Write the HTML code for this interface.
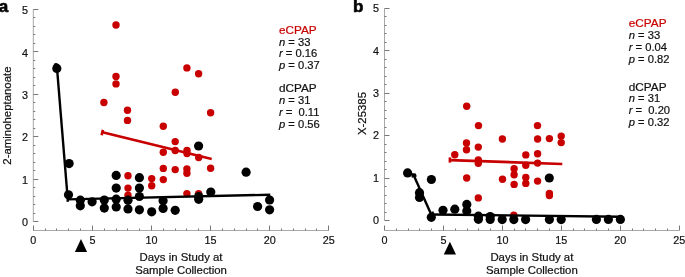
<!DOCTYPE html>
<html><head><meta charset="utf-8"><style>
html,body{margin:0;padding:0;background:#fff;overflow:hidden}
svg{display:block;will-change:transform}
.t{font-family:"Liberation Sans",sans-serif;font-size:10.5px;fill:#111;stroke:#111;stroke-width:0.2px}
.tk{font-family:"Liberation Sans",sans-serif;font-size:10.8px;fill:#111;stroke:#111;stroke-width:0.2px}
.st{font-family:"Liberation Sans",sans-serif;font-size:10.5px;fill:#111;stroke:#111;stroke-width:0.2px}
.lab{font-family:"Liberation Sans",sans-serif;font-size:17px;font-weight:bold;fill:#000}
</style></head><body>
<svg width="685" height="277" viewBox="0 0 685 277">
<text x="-1.3" y="11.9" class="lab" style="stroke:#000;stroke-width:0.6">a</text>
<text x="353" y="11.9" class="lab" style="stroke:#000;stroke-width:0.6">b</text>
<line x1="33.3" y1="9.399999999999977" x2="33.3" y2="221.5" stroke="#a8a8a8" stroke-width="1"/>
<line x1="33.3" y1="221.50" x2="38.3" y2="221.50" stroke="#777" stroke-width="1"/>
<line x1="33.3" y1="213.50" x2="35.3" y2="213.50" stroke="#777" stroke-width="1"/>
<line x1="33.3" y1="204.50" x2="35.3" y2="204.50" stroke="#777" stroke-width="1"/>
<line x1="33.3" y1="196.50" x2="35.3" y2="196.50" stroke="#777" stroke-width="1"/>
<line x1="33.3" y1="187.50" x2="35.3" y2="187.50" stroke="#777" stroke-width="1"/>
<line x1="33.3" y1="179.50" x2="38.3" y2="179.50" stroke="#777" stroke-width="1"/>
<line x1="33.3" y1="170.50" x2="35.3" y2="170.50" stroke="#777" stroke-width="1"/>
<line x1="33.3" y1="162.50" x2="35.3" y2="162.50" stroke="#777" stroke-width="1"/>
<line x1="33.3" y1="153.50" x2="35.3" y2="153.50" stroke="#777" stroke-width="1"/>
<line x1="33.3" y1="145.50" x2="35.3" y2="145.50" stroke="#777" stroke-width="1"/>
<line x1="33.3" y1="136.50" x2="38.3" y2="136.50" stroke="#777" stroke-width="1"/>
<line x1="33.3" y1="128.50" x2="35.3" y2="128.50" stroke="#777" stroke-width="1"/>
<line x1="33.3" y1="119.50" x2="35.3" y2="119.50" stroke="#777" stroke-width="1"/>
<line x1="33.3" y1="111.50" x2="35.3" y2="111.50" stroke="#777" stroke-width="1"/>
<line x1="33.3" y1="102.50" x2="35.3" y2="102.50" stroke="#777" stroke-width="1"/>
<line x1="33.3" y1="94.50" x2="38.3" y2="94.50" stroke="#777" stroke-width="1"/>
<line x1="33.3" y1="85.50" x2="35.3" y2="85.50" stroke="#777" stroke-width="1"/>
<line x1="33.3" y1="77.50" x2="35.3" y2="77.50" stroke="#777" stroke-width="1"/>
<line x1="33.3" y1="68.50" x2="35.3" y2="68.50" stroke="#777" stroke-width="1"/>
<line x1="33.3" y1="60.50" x2="35.3" y2="60.50" stroke="#777" stroke-width="1"/>
<line x1="33.3" y1="51.50" x2="38.3" y2="51.50" stroke="#777" stroke-width="1"/>
<line x1="33.3" y1="43.50" x2="35.3" y2="43.50" stroke="#777" stroke-width="1"/>
<line x1="33.3" y1="34.50" x2="35.3" y2="34.50" stroke="#777" stroke-width="1"/>
<line x1="33.3" y1="26.50" x2="35.3" y2="26.50" stroke="#777" stroke-width="1"/>
<line x1="33.3" y1="17.50" x2="35.3" y2="17.50" stroke="#777" stroke-width="1"/>
<line x1="33.3" y1="9.50" x2="38.3" y2="9.50" stroke="#777" stroke-width="1"/>
<text x="25.099999999999998" y="226.20" text-anchor="middle" class="tk">0</text>
<text x="25.099999999999998" y="183.78" text-anchor="middle" class="tk">1</text>
<text x="25.099999999999998" y="141.36" text-anchor="middle" class="tk">2</text>
<text x="25.099999999999998" y="98.94" text-anchor="middle" class="tk">3</text>
<text x="25.099999999999998" y="56.52" text-anchor="middle" class="tk">4</text>
<text x="25.099999999999998" y="14.10" text-anchor="middle" class="tk">5</text>
<line x1="33.3" y1="230.5" x2="328.8" y2="230.5" stroke="#a8a8a8" stroke-width="1"/>
<line x1="33.50" y1="230.5" x2="33.50" y2="225.5" stroke="#777" stroke-width="1"/>
<line x1="45.50" y1="230.5" x2="45.50" y2="228.5" stroke="#777" stroke-width="1"/>
<line x1="56.50" y1="230.5" x2="56.50" y2="228.5" stroke="#777" stroke-width="1"/>
<line x1="68.50" y1="230.5" x2="68.50" y2="228.5" stroke="#777" stroke-width="1"/>
<line x1="80.50" y1="230.5" x2="80.50" y2="228.5" stroke="#777" stroke-width="1"/>
<line x1="92.50" y1="230.5" x2="92.50" y2="225.5" stroke="#777" stroke-width="1"/>
<line x1="104.50" y1="230.5" x2="104.50" y2="228.5" stroke="#777" stroke-width="1"/>
<line x1="116.50" y1="230.5" x2="116.50" y2="228.5" stroke="#777" stroke-width="1"/>
<line x1="127.50" y1="230.5" x2="127.50" y2="228.5" stroke="#777" stroke-width="1"/>
<line x1="139.50" y1="230.5" x2="139.50" y2="228.5" stroke="#777" stroke-width="1"/>
<line x1="151.50" y1="230.5" x2="151.50" y2="225.5" stroke="#777" stroke-width="1"/>
<line x1="163.50" y1="230.5" x2="163.50" y2="228.5" stroke="#777" stroke-width="1"/>
<line x1="175.50" y1="230.5" x2="175.50" y2="228.5" stroke="#777" stroke-width="1"/>
<line x1="186.50" y1="230.5" x2="186.50" y2="228.5" stroke="#777" stroke-width="1"/>
<line x1="198.50" y1="230.5" x2="198.50" y2="228.5" stroke="#777" stroke-width="1"/>
<line x1="210.50" y1="230.5" x2="210.50" y2="225.5" stroke="#777" stroke-width="1"/>
<line x1="222.50" y1="230.5" x2="222.50" y2="228.5" stroke="#777" stroke-width="1"/>
<line x1="234.50" y1="230.5" x2="234.50" y2="228.5" stroke="#777" stroke-width="1"/>
<line x1="246.50" y1="230.5" x2="246.50" y2="228.5" stroke="#777" stroke-width="1"/>
<line x1="257.50" y1="230.5" x2="257.50" y2="228.5" stroke="#777" stroke-width="1"/>
<line x1="269.50" y1="230.5" x2="269.50" y2="225.5" stroke="#777" stroke-width="1"/>
<line x1="281.50" y1="230.5" x2="281.50" y2="228.5" stroke="#777" stroke-width="1"/>
<line x1="293.50" y1="230.5" x2="293.50" y2="228.5" stroke="#777" stroke-width="1"/>
<line x1="305.50" y1="230.5" x2="305.50" y2="228.5" stroke="#777" stroke-width="1"/>
<line x1="316.50" y1="230.5" x2="316.50" y2="228.5" stroke="#777" stroke-width="1"/>
<line x1="328.50" y1="230.5" x2="328.50" y2="225.5" stroke="#777" stroke-width="1"/>
<text x="33.30" y="244.3" text-anchor="middle" class="tk">0</text>
<text x="92.40" y="244.3" text-anchor="middle" class="tk">5</text>
<text x="151.50" y="244.3" text-anchor="middle" class="tk">10</text>
<text x="210.60" y="244.3" text-anchor="middle" class="tk">15</text>
<text x="269.70" y="244.3" text-anchor="middle" class="tk">20</text>
<text x="328.80" y="244.3" text-anchor="middle" class="tk">25</text>
<text x="181.05" y="260.8" text-anchor="middle" class="t" textLength="82.95" lengthAdjust="spacingAndGlyphs">Days in Study at</text>
<text x="181.05" y="273.8" text-anchor="middle" class="t" textLength="91.81" lengthAdjust="spacingAndGlyphs">Sample Collection</text>
<text x="0" y="0" transform="translate(10.6,115.6) rotate(-90)" text-anchor="middle" class="t" textLength="98.17" lengthAdjust="spacingAndGlyphs">2-aminoheptanoate</text>
<polygon points="81,239.1 74.9,251.9 87.1,251.9" fill="#000"/>
<circle cx="116.0" cy="25.0" r="3.7" fill="#c80000"/>
<circle cx="116.0" cy="76.4" r="3.7" fill="#c80000"/>
<circle cx="116.0" cy="83.9" r="3.7" fill="#c80000"/>
<circle cx="103.9" cy="102.5" r="3.7" fill="#c80000"/>
<circle cx="127.5" cy="110.3" r="3.7" fill="#c80000"/>
<circle cx="127.5" cy="120.4" r="3.7" fill="#c80000"/>
<circle cx="163.3" cy="126.2" r="3.7" fill="#c80000"/>
<circle cx="163.3" cy="152.3" r="3.7" fill="#c80000"/>
<circle cx="186.9" cy="67.9" r="3.7" fill="#c80000"/>
<circle cx="198.6" cy="73.8" r="3.7" fill="#c80000"/>
<circle cx="175.3" cy="92.2" r="3.7" fill="#c80000"/>
<circle cx="210.6" cy="112.7" r="3.7" fill="#c80000"/>
<circle cx="175.2" cy="141.6" r="3.7" fill="#c80000"/>
<circle cx="175.2" cy="150.5" r="3.7" fill="#c80000"/>
<circle cx="187.0" cy="150.5" r="3.7" fill="#c80000"/>
<circle cx="187.0" cy="153.5" r="3.7" fill="#c80000"/>
<circle cx="198.7" cy="157.5" r="3.7" fill="#c80000"/>
<circle cx="163.3" cy="168.4" r="3.7" fill="#c80000"/>
<circle cx="175.2" cy="169.6" r="3.7" fill="#c80000"/>
<circle cx="186.9" cy="169.0" r="3.7" fill="#c80000"/>
<circle cx="186.9" cy="173.2" r="3.7" fill="#c80000"/>
<circle cx="210.6" cy="168.2" r="3.7" fill="#c80000"/>
<circle cx="151.7" cy="178.6" r="3.7" fill="#c80000"/>
<circle cx="151.7" cy="185.8" r="3.7" fill="#c80000"/>
<circle cx="163.3" cy="179.6" r="3.7" fill="#c80000"/>
<circle cx="186.9" cy="193.6" r="3.7" fill="#c80000"/>
<circle cx="198.6" cy="193.6" r="3.7" fill="#c80000"/>
<circle cx="128.0" cy="175.8" r="3.7" fill="#c80000"/>
<circle cx="128.0" cy="188.1" r="3.7" fill="#c80000"/>
<circle cx="128.0" cy="195.3" r="3.7" fill="#c80000"/>
<line x1="102.5" y1="132.3" x2="211.7" y2="159.0" stroke="#c80000" stroke-width="2.7"/>
<line x1="57" y1="68" x2="67.6" y2="197.5" stroke="#000" stroke-width="2.4"/>
<line x1="67.7" y1="199.4" x2="270.3" y2="194.7" stroke="#000" stroke-width="2.4"/>
<circle cx="56" cy="65.3" r="2.4" fill="#000"/>
<line x1="67.7" y1="195.5" x2="67.7" y2="201.8" stroke="#000" stroke-width="2.4"/>
<line x1="101.6" y1="135.3" x2="102.9" y2="129.9" stroke="#c80000" stroke-width="2.6"/>
<circle cx="56.8" cy="68.4" r="4.6" fill="#000"/>
<circle cx="69.1" cy="163.6" r="4.6" fill="#000"/>
<circle cx="68.5" cy="194.8" r="4.6" fill="#000"/>
<circle cx="80.3" cy="200.2" r="4.6" fill="#000"/>
<circle cx="80.3" cy="205.8" r="4.6" fill="#000"/>
<circle cx="92.1" cy="201.8" r="4.6" fill="#000"/>
<circle cx="104.3" cy="200.1" r="4.6" fill="#000"/>
<circle cx="104.3" cy="208.1" r="4.6" fill="#000"/>
<circle cx="116.2" cy="175.4" r="4.6" fill="#000"/>
<circle cx="116.2" cy="188.1" r="4.6" fill="#000"/>
<circle cx="116.2" cy="199.2" r="4.6" fill="#000"/>
<circle cx="116.2" cy="207.0" r="4.6" fill="#000"/>
<circle cx="128.0" cy="200.2" r="4.6" fill="#000"/>
<circle cx="128.0" cy="208.9" r="4.6" fill="#000"/>
<circle cx="139.4" cy="177.7" r="4.6" fill="#000"/>
<circle cx="139.4" cy="188.1" r="4.6" fill="#000"/>
<circle cx="139.4" cy="196.5" r="4.6" fill="#000"/>
<circle cx="139.4" cy="209.8" r="4.6" fill="#000"/>
<circle cx="151.7" cy="211.8" r="4.6" fill="#000"/>
<circle cx="163.1" cy="200.8" r="4.6" fill="#000"/>
<circle cx="163.1" cy="208.4" r="4.6" fill="#000"/>
<circle cx="175.2" cy="210.3" r="4.6" fill="#000"/>
<circle cx="198.6" cy="146.0" r="4.6" fill="#000"/>
<circle cx="198.7" cy="196.6" r="4.6" fill="#000"/>
<circle cx="198.7" cy="199.3" r="4.6" fill="#000"/>
<circle cx="210.8" cy="192.0" r="4.6" fill="#000"/>
<circle cx="246.1" cy="172.2" r="4.6" fill="#000"/>
<circle cx="257.6" cy="206.5" r="4.6" fill="#000"/>
<circle cx="269.6" cy="200.0" r="4.6" fill="#000"/>
<circle cx="269.6" cy="209.8" r="4.6" fill="#000"/>
<text x="279" y="33.9" class="t" style="fill:#c80000;stroke:#c80000" textLength="37.69" lengthAdjust="spacingAndGlyphs">eCPAP</text>
<text x="279" y="45.6" class="st" transform="translate(279,0) scale(1.065,1) translate(-279,0)"><tspan font-style="italic">n</tspan> = 33</text>
<text x="279" y="57.4" class="st" transform="translate(279,0) scale(1.065,1) translate(-279,0)"><tspan font-style="italic">r</tspan> = 0.16</text>
<text x="279" y="69.0" class="st" transform="translate(279,0) scale(1.065,1) translate(-279,0)"><tspan font-style="italic">p</tspan> = 0.37</text>
<text x="279" y="92.3" class="t" style="fill:#111;stroke:#111" textLength="37.69" lengthAdjust="spacingAndGlyphs">dCPAP</text>
<text x="279" y="104.2" class="st" transform="translate(279,0) scale(1.065,1) translate(-279,0)"><tspan font-style="italic">n</tspan> = 31</text>
<text x="279" y="116.2" class="st" transform="translate(279,0) scale(1.065,1) translate(-279,0)"><tspan font-style="italic">r</tspan> =  0.11</text>
<text x="279" y="127.6" class="st" transform="translate(279,0) scale(1.065,1) translate(-279,0)"><tspan font-style="italic">p</tspan> = 0.56</text>
<line x1="384.5" y1="8.5" x2="384.5" y2="220.5" stroke="#a8a8a8" stroke-width="1"/>
<line x1="384.5" y1="220.50" x2="389.5" y2="220.50" stroke="#777" stroke-width="1"/>
<line x1="384.5" y1="212.50" x2="386.5" y2="212.50" stroke="#777" stroke-width="1"/>
<line x1="384.5" y1="203.50" x2="386.5" y2="203.50" stroke="#777" stroke-width="1"/>
<line x1="384.5" y1="195.50" x2="386.5" y2="195.50" stroke="#777" stroke-width="1"/>
<line x1="384.5" y1="186.50" x2="386.5" y2="186.50" stroke="#777" stroke-width="1"/>
<line x1="384.5" y1="178.50" x2="389.5" y2="178.50" stroke="#777" stroke-width="1"/>
<line x1="384.5" y1="169.50" x2="386.5" y2="169.50" stroke="#777" stroke-width="1"/>
<line x1="384.5" y1="161.50" x2="386.5" y2="161.50" stroke="#777" stroke-width="1"/>
<line x1="384.5" y1="152.50" x2="386.5" y2="152.50" stroke="#777" stroke-width="1"/>
<line x1="384.5" y1="144.50" x2="386.5" y2="144.50" stroke="#777" stroke-width="1"/>
<line x1="384.5" y1="135.50" x2="389.5" y2="135.50" stroke="#777" stroke-width="1"/>
<line x1="384.5" y1="127.50" x2="386.5" y2="127.50" stroke="#777" stroke-width="1"/>
<line x1="384.5" y1="118.50" x2="386.5" y2="118.50" stroke="#777" stroke-width="1"/>
<line x1="384.5" y1="110.50" x2="386.5" y2="110.50" stroke="#777" stroke-width="1"/>
<line x1="384.5" y1="101.50" x2="386.5" y2="101.50" stroke="#777" stroke-width="1"/>
<line x1="384.5" y1="93.50" x2="389.5" y2="93.50" stroke="#777" stroke-width="1"/>
<line x1="384.5" y1="84.50" x2="386.5" y2="84.50" stroke="#777" stroke-width="1"/>
<line x1="384.5" y1="76.50" x2="386.5" y2="76.50" stroke="#777" stroke-width="1"/>
<line x1="384.5" y1="67.50" x2="386.5" y2="67.50" stroke="#777" stroke-width="1"/>
<line x1="384.5" y1="59.50" x2="386.5" y2="59.50" stroke="#777" stroke-width="1"/>
<line x1="384.5" y1="50.50" x2="389.5" y2="50.50" stroke="#777" stroke-width="1"/>
<line x1="384.5" y1="42.50" x2="386.5" y2="42.50" stroke="#777" stroke-width="1"/>
<line x1="384.5" y1="33.50" x2="386.5" y2="33.50" stroke="#777" stroke-width="1"/>
<line x1="384.5" y1="25.50" x2="386.5" y2="25.50" stroke="#777" stroke-width="1"/>
<line x1="384.5" y1="16.50" x2="386.5" y2="16.50" stroke="#777" stroke-width="1"/>
<line x1="384.5" y1="8.50" x2="389.5" y2="8.50" stroke="#777" stroke-width="1"/>
<text x="376.0" y="224.10" text-anchor="middle" class="tk">0</text>
<text x="376.0" y="181.70" text-anchor="middle" class="tk">1</text>
<text x="376.0" y="139.30" text-anchor="middle" class="tk">2</text>
<text x="376.0" y="96.90" text-anchor="middle" class="tk">3</text>
<text x="376.0" y="54.50" text-anchor="middle" class="tk">4</text>
<text x="376.0" y="12.10" text-anchor="middle" class="tk">5</text>
<line x1="384.5" y1="230.5" x2="679.25" y2="230.5" stroke="#a8a8a8" stroke-width="1"/>
<line x1="384.50" y1="230.5" x2="384.50" y2="225.5" stroke="#777" stroke-width="1"/>
<line x1="396.50" y1="230.5" x2="396.50" y2="228.5" stroke="#777" stroke-width="1"/>
<line x1="408.50" y1="230.5" x2="408.50" y2="228.5" stroke="#777" stroke-width="1"/>
<line x1="419.50" y1="230.5" x2="419.50" y2="228.5" stroke="#777" stroke-width="1"/>
<line x1="431.50" y1="230.5" x2="431.50" y2="228.5" stroke="#777" stroke-width="1"/>
<line x1="443.50" y1="230.5" x2="443.50" y2="225.5" stroke="#777" stroke-width="1"/>
<line x1="455.50" y1="230.5" x2="455.50" y2="228.5" stroke="#777" stroke-width="1"/>
<line x1="467.50" y1="230.5" x2="467.50" y2="228.5" stroke="#777" stroke-width="1"/>
<line x1="478.50" y1="230.5" x2="478.50" y2="228.5" stroke="#777" stroke-width="1"/>
<line x1="490.50" y1="230.5" x2="490.50" y2="228.5" stroke="#777" stroke-width="1"/>
<line x1="502.50" y1="230.5" x2="502.50" y2="225.5" stroke="#777" stroke-width="1"/>
<line x1="514.50" y1="230.5" x2="514.50" y2="228.5" stroke="#777" stroke-width="1"/>
<line x1="525.50" y1="230.5" x2="525.50" y2="228.5" stroke="#777" stroke-width="1"/>
<line x1="537.50" y1="230.5" x2="537.50" y2="228.5" stroke="#777" stroke-width="1"/>
<line x1="549.50" y1="230.5" x2="549.50" y2="228.5" stroke="#777" stroke-width="1"/>
<line x1="561.50" y1="230.5" x2="561.50" y2="225.5" stroke="#777" stroke-width="1"/>
<line x1="573.50" y1="230.5" x2="573.50" y2="228.5" stroke="#777" stroke-width="1"/>
<line x1="584.50" y1="230.5" x2="584.50" y2="228.5" stroke="#777" stroke-width="1"/>
<line x1="596.50" y1="230.5" x2="596.50" y2="228.5" stroke="#777" stroke-width="1"/>
<line x1="608.50" y1="230.5" x2="608.50" y2="228.5" stroke="#777" stroke-width="1"/>
<line x1="620.50" y1="230.5" x2="620.50" y2="225.5" stroke="#777" stroke-width="1"/>
<line x1="632.50" y1="230.5" x2="632.50" y2="228.5" stroke="#777" stroke-width="1"/>
<line x1="643.50" y1="230.5" x2="643.50" y2="228.5" stroke="#777" stroke-width="1"/>
<line x1="655.50" y1="230.5" x2="655.50" y2="228.5" stroke="#777" stroke-width="1"/>
<line x1="667.50" y1="230.5" x2="667.50" y2="228.5" stroke="#777" stroke-width="1"/>
<line x1="679.50" y1="230.5" x2="679.50" y2="225.5" stroke="#777" stroke-width="1"/>
<text x="384.50" y="244.3" text-anchor="middle" class="tk">0</text>
<text x="443.45" y="244.3" text-anchor="middle" class="tk">5</text>
<text x="502.40" y="244.3" text-anchor="middle" class="tk">10</text>
<text x="561.35" y="244.3" text-anchor="middle" class="tk">15</text>
<text x="620.30" y="244.3" text-anchor="middle" class="tk">20</text>
<text x="679.25" y="244.3" text-anchor="middle" class="tk">25</text>
<text x="531.88" y="260.8" text-anchor="middle" class="t" textLength="82.95" lengthAdjust="spacingAndGlyphs">Days in Study at</text>
<text x="531.88" y="273.8" text-anchor="middle" class="t" textLength="91.81" lengthAdjust="spacingAndGlyphs">Sample Collection</text>
<text x="0" y="0" transform="translate(366,113.5) rotate(-90)" text-anchor="middle" class="t" textLength="43.07" lengthAdjust="spacingAndGlyphs">X-25385</text>
<polygon points="449.9,241.8 443.79999999999995,254.60000000000002 456.0,254.60000000000002" fill="#000"/>
<circle cx="466.7" cy="106.2" r="3.7" fill="#c80000"/>
<circle cx="478.5" cy="125.6" r="3.7" fill="#c80000"/>
<circle cx="537.5" cy="125.6" r="3.7" fill="#c80000"/>
<circle cx="502.4" cy="139.0" r="3.7" fill="#c80000"/>
<circle cx="537.6" cy="139.0" r="3.7" fill="#c80000"/>
<circle cx="549.4" cy="138.6" r="3.7" fill="#c80000"/>
<circle cx="561.2" cy="136.1" r="3.7" fill="#c80000"/>
<circle cx="561.2" cy="142.6" r="3.7" fill="#c80000"/>
<circle cx="466.5" cy="143.0" r="3.7" fill="#c80000"/>
<circle cx="466.5" cy="149.8" r="3.7" fill="#c80000"/>
<circle cx="478.3" cy="147.1" r="3.7" fill="#c80000"/>
<circle cx="454.8" cy="154.7" r="3.7" fill="#c80000"/>
<circle cx="478.3" cy="160.0" r="3.7" fill="#c80000"/>
<circle cx="478.3" cy="163.3" r="3.7" fill="#c80000"/>
<circle cx="525.8" cy="154.9" r="3.7" fill="#c80000"/>
<circle cx="537.6" cy="153.7" r="3.7" fill="#c80000"/>
<circle cx="537.6" cy="163.1" r="3.7" fill="#c80000"/>
<circle cx="525.8" cy="165.2" r="3.7" fill="#c80000"/>
<circle cx="514.1" cy="168.8" r="3.7" fill="#c80000"/>
<circle cx="514.1" cy="174.8" r="3.7" fill="#c80000"/>
<circle cx="514.1" cy="184.4" r="3.7" fill="#c80000"/>
<circle cx="502.5" cy="179.3" r="3.7" fill="#c80000"/>
<circle cx="525.8" cy="177.5" r="3.7" fill="#c80000"/>
<circle cx="525.8" cy="183.4" r="3.7" fill="#c80000"/>
<circle cx="537.6" cy="181.1" r="3.7" fill="#c80000"/>
<circle cx="549.4" cy="193.4" r="3.7" fill="#c80000"/>
<circle cx="549.4" cy="195.5" r="3.7" fill="#c80000"/>
<circle cx="466.7" cy="178.0" r="3.7" fill="#c80000"/>
<circle cx="478.3" cy="197.9" r="3.7" fill="#c80000"/>
<circle cx="513.8" cy="215.3" r="3.7" fill="#c80000"/>
<line x1="449.9" y1="160.05" x2="562.3" y2="164.0" stroke="#c80000" stroke-width="2.7"/>
<line x1="413.7" y1="175.3" x2="431" y2="214" stroke="#000" stroke-width="2.4"/>
<line x1="432.6" y1="214.5" x2="620.4" y2="216.7" stroke="#000" stroke-width="2.4"/>
<polygon points="410.8,172.9 415.8,173.5 416.8,176.5 411.8,177.8" fill="#000"/>
<line x1="432.7" y1="211.6" x2="432.7" y2="216.5" stroke="#000" stroke-width="2.4"/>
<line x1="449.9" y1="157.4" x2="449.9" y2="162.6" stroke="#c80000" stroke-width="2.6"/>
<circle cx="407.6" cy="172.9" r="4.6" fill="#000"/>
<circle cx="419.5" cy="192.7" r="4.6" fill="#000"/>
<circle cx="419.5" cy="197.5" r="4.6" fill="#000"/>
<circle cx="431.4" cy="179.5" r="4.6" fill="#000"/>
<circle cx="431.3" cy="217.3" r="4.6" fill="#000"/>
<circle cx="443.0" cy="210.3" r="4.6" fill="#000"/>
<circle cx="454.8" cy="209.2" r="4.6" fill="#000"/>
<circle cx="466.8" cy="204.4" r="4.6" fill="#000"/>
<circle cx="466.8" cy="210.9" r="4.6" fill="#000"/>
<circle cx="478.4" cy="216.2" r="4.6" fill="#000"/>
<circle cx="478.4" cy="219.3" r="4.6" fill="#000"/>
<circle cx="490.2" cy="216.5" r="4.6" fill="#000"/>
<circle cx="490.2" cy="219.5" r="4.6" fill="#000"/>
<circle cx="502.2" cy="219.6" r="4.6" fill="#000"/>
<circle cx="513.8" cy="219.6" r="4.6" fill="#000"/>
<circle cx="525.6" cy="219.6" r="4.6" fill="#000"/>
<circle cx="549.4" cy="219.6" r="4.6" fill="#000"/>
<circle cx="561.2" cy="219.6" r="4.6" fill="#000"/>
<circle cx="596.4" cy="219.4" r="4.6" fill="#000"/>
<circle cx="608.4" cy="219.4" r="4.6" fill="#000"/>
<circle cx="620.4" cy="219.4" r="4.6" fill="#000"/>
<circle cx="549.3" cy="178.0" r="4.6" fill="#000"/>
<text x="628.8" y="26.9" class="t" style="fill:#c80000;stroke:#c80000" textLength="37.69" lengthAdjust="spacingAndGlyphs">eCPAP</text>
<text x="628.8" y="38.6" class="st" transform="translate(628.8,0) scale(1.065,1) translate(-628.8,0)"><tspan font-style="italic">n</tspan> = 33</text>
<text x="628.8" y="50.9" class="st" transform="translate(628.8,0) scale(1.065,1) translate(-628.8,0)"><tspan font-style="italic">r</tspan> = 0.04</text>
<text x="628.8" y="63.1" class="st" transform="translate(628.8,0) scale(1.065,1) translate(-628.8,0)"><tspan font-style="italic">p</tspan> = 0.82</text>
<text x="628.8" y="90.6" class="t" style="fill:#111;stroke:#111" textLength="37.69" lengthAdjust="spacingAndGlyphs">dCPAP</text>
<text x="628.8" y="102.3" class="st" transform="translate(628.8,0) scale(1.065,1) translate(-628.8,0)"><tspan font-style="italic">n</tspan> = 31</text>
<text x="628.8" y="114.1" class="st" transform="translate(628.8,0) scale(1.065,1) translate(-628.8,0)"><tspan font-style="italic">r</tspan> =  0.20</text>
<text x="628.8" y="125.6" class="st" transform="translate(628.8,0) scale(1.065,1) translate(-628.8,0)"><tspan font-style="italic">p</tspan> = 0.32</text>
</svg>
</body></html>
